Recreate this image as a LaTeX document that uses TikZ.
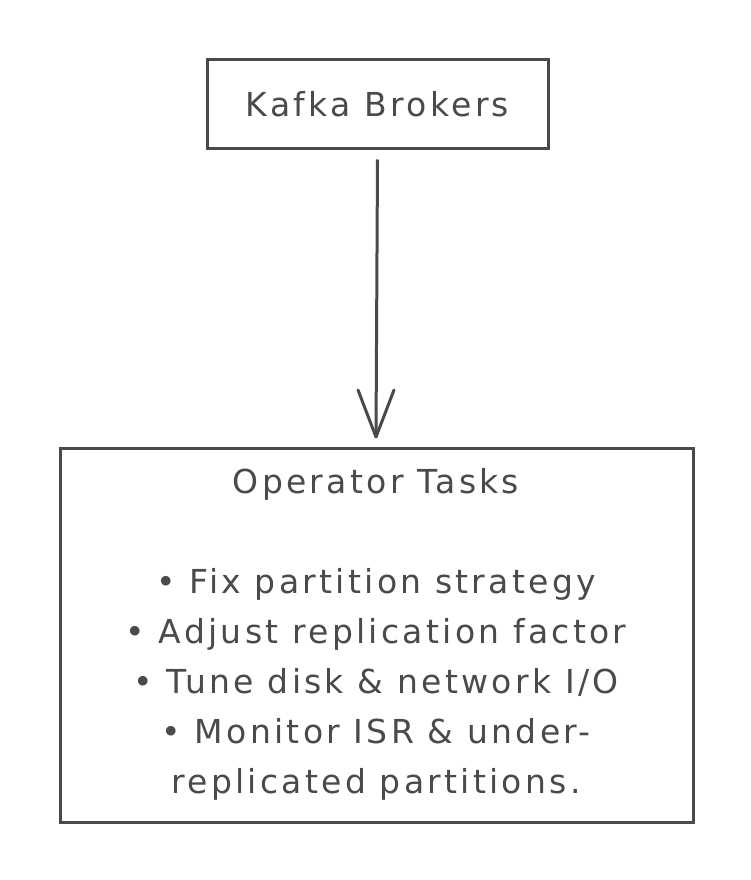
\documentclass[tikz,border=0pt]{standalone}
\usepackage{fontspec}
\setmainfont{DejaVu Sans}[LetterSpace=10]
\definecolor{ink}{HTML}{4A4A4A}
\begin{document}
\begin{tikzpicture}[x=1pt,y=-1pt,
  box/.style={draw=ink,line width=3pt},
  txt/.style={text=ink,font=\fontsize{33}{50}\selectfont,align=center}]
\useasboundingbox[fill=white] (0,0) rectangle (751,880);
\node[box,minimum width=341pt,minimum height=88pt] (kb) at (377.5,104) {};
\node[txt] at (kb.center) {Kafka Brokers};
\node[box,minimum width=633pt,minimum height=374pt] (ot) at (376.5,635) {};
\node[txt,anchor=north] (t) at (376,465) {Operator Tasks\\[50pt]
• Fix partition strategy\\
• Adjust replication factor\\
• Tune disk \& network I/O\\
• Monitor ISR \& under-\\
replicated partitions.};
\coordinate (tip) at (376,437);
\draw[draw=ink,line width=3pt] (kb.south) ++(0,10) -- (tip);
\draw[draw=ink,line width=3pt,line cap=round,line join=round] (358,390) -- (tip) -- (394,390);
\end{tikzpicture}
\end{document}
